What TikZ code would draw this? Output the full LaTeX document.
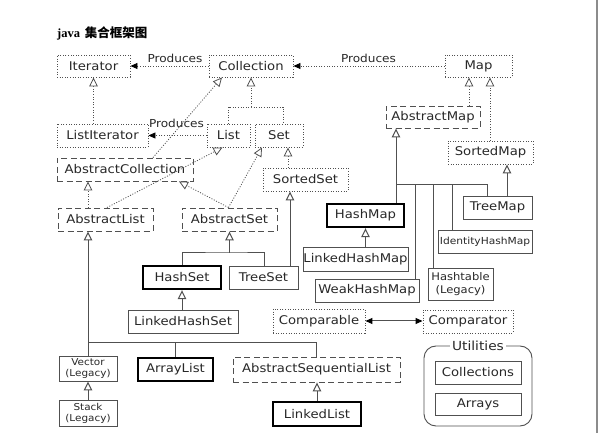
\documentclass[tikz,border=0pt]{standalone}
\usepackage{fontspec}
\setmainfont{DejaVu Sans}[FakeStretch=1.1]
\newfontfamily\cjk{Noto Sans CJK SC}
\newfontfamily\titleserif{Liberation Serif}
\usetikzlibrary{arrows.meta,calc}
\definecolor{ln}{HTML}{505050}
\definecolor{tx}{HTML}{282828}
\tikzset{
  box/.style={rectangle, inner sep=0pt, draw=ln, line width=0.9pt, text=tx, align=center, font=\fontsize{12}{14}\selectfont},
  dotbox/.style={box, dash pattern=on 1pt off 1.6pt},
  dashbox/.style={box, dash pattern=on 6pt off 3.5pt},
  solidbox/.style={box},
  thickbox/.style={box, draw=black, line width=2.4pt},
  iface/.style={draw=ln, line width=0.8pt, dash pattern=on 1pt off 1.6pt},
  impl/.style={draw=ln, line width=1pt},
  inh/.style={-{Triangle[length=9pt,width=8.5pt,fill=white]}},
  prod/.style={iface, -{Triangle[length=7pt,width=6pt,color=black,fill=black]}},
  lbl/.style={inner sep=0pt, text=tx, font=\fontsize{11}{13}\selectfont},
  small/.style={font=\fontsize{9.5}{11}\selectfont}
}
\begin{document}
\begin{tikzpicture}[x=1pt,y=-1pt]
\fill[white] (0,0) rectangle (600,443);
\useasboundingbox (0,0) rectangle (600,443);

% title
\node[anchor=base west, inner sep=0pt, text=black] (title) at (57,38)
  {\bfseries\fontsize{12.5}{14}\selectfont{\titleserif java} {\cjk 集合框架图}};

% interfaces and classes
\node[dotbox, minimum width=73, minimum height=22] (iter) at (93.5,66) {Iterator};
\node[dotbox, minimum width=84, minimum height=22] (coll) at (251,66) {Collection};
\node[dotbox, minimum width=67, minimum height=22] (map) at (478.5,66) {Map};
\node[dotbox, minimum width=91, minimum height=23] (listit) at (102.5,135.5) {ListIterator};
\node[dotbox, minimum width=43, minimum height=23] (list) at (228.5,135.5) {List};
\node[dotbox, minimum width=48, minimum height=23] (set) at (279,135.5) {Set};
\node[dashbox, minimum width=136, minimum height=23] (abscoll) at (125,169.5) {AbstractCollection};
\node[dashbox, minimum width=95, minimum height=23] (abslist) at (105.5,219.5) {AbstractList};
\node[dashbox, minimum width=95, minimum height=23] (absset) at (229.5,219.5) {AbstractSet};
\node[dotbox, minimum width=85, minimum height=23] (sortedset) at (305.5,179.5) {SortedSet};
\node[thickbox, minimum width=78, minimum height=23] (hashset) at (182,277.5) {HashSet};
\node[solidbox, minimum width=69, minimum height=23] (treeset) at (263.5,277.5) {TreeSet};
\node[solidbox, minimum width=110, minimum height=23] (lhs) at (183,321.5) {LinkedHashSet};
\node[solidbox, small, minimum width=58, minimum height=25] (vector) at (88,368.5) {Vector\\(Legacy)};
\node[solidbox, small, minimum width=58, minimum height=26] (stack) at (88,413) {Stack\\(Legacy)};
\node[thickbox, minimum width=75, minimum height=23] (arraylist) at (175.5,369.5) {ArrayList};
\node[dashbox, minimum width=167, minimum height=25] (asl) at (316.5,369.5) {AbstractSequentialList};
\node[thickbox, minimum width=88, minimum height=24] (linkedlist) at (317,414) {LinkedList};
\node[dotbox, minimum width=92, minimum height=24] (comparable) at (319,321) {Comparable};
\node[dotbox, minimum width=90, minimum height=23] (comparator) at (468,321.5) {Comparator};
\node[dashbox, minimum width=94, minimum height=22] (absmap) at (433,117) {AbstractMap};
\node[dotbox, minimum width=85, minimum height=23] (sortedmap) at (490.5,152.5) {SortedMap};
\node[thickbox, minimum width=77, minimum height=23] (hashmap) at (365.5,215.5) {HashMap};
\node[solidbox, minimum width=69, minimum height=23] (treemap) at (497.5,207.5) {TreeMap};
\node[solidbox, font=\fontsize{9.7}{11}\selectfont, minimum width=94, minimum height=23] (identity) at (485,241.5) {IdentityHashMap};
\node[solidbox, minimum width=105, minimum height=24] (lhm) at (355.5,259) {LinkedHashMap};
\node[solidbox, minimum width=104, minimum height=23] (weak) at (367,290.5) {WeakHashMap};
\node[solidbox, font=\fontsize{10.5}{12.5}\selectfont, minimum width=65, minimum height=32] (hashtable) at (460.5,284) {Hashtable\\(Legacy)};

% utilities group
\node[draw=ln, line width=0.9pt, rounded corners=12pt, minimum width=108, minimum height=80, inner sep=0pt] (utilbox) at (478,386) {};
\node[fill=white, inner sep=2pt, text=tx, font=\fontsize{12.5}{14}\selectfont] (util) at (478,346) {Utilities};
\node[solidbox, minimum width=86, minimum height=23] (collections) at (478,372.5) {Collections};
\node[solidbox, minimum width=86, minimum height=22] (arrays) at (478,404) {Arrays};

% "Produces" connectors
\draw[prod] (coll.west) -- (iter.east);
\draw[prod] (map.west) -- (coll.east);
\draw[prod] (list.west) -- (listit.east);
\node[lbl] (p1) at (175,58) {Produces};
\node[lbl] (p2) at (368.5,58) {Produces};
\node[lbl] (p3) at (176.5,123.5) {Produces};

% interface inheritance (dotted)
\draw[iface,inh] (iter.south |- listit.north) -- (iter.south);
\coordinate (cj) at (251,107);
\draw[iface] (list.north) |- (cj) -| ([xshift=4]set.north);
\draw[iface,inh] (cj) -- (coll.south);
\draw[iface,inh] ([xshift=28]abscoll.north) -- ([xshift=-29]coll.south);
\draw[iface,inh] ([xshift=-17.5]abslist.north) -- ([xshift=-17.5]abslist.north |- abscoll.south);
\draw[iface,inh] ([xshift=1.5]abslist.north) -- ([xshift=-6]list.south);
\draw[iface,inh] ([xshift=-1]absset.north) -- ([xshift=54]abscoll.south);
\draw[iface,inh] ([xshift=-1]absset.north) -- ([xshift=-17]set.south);
\draw[iface,inh] ([xshift=9]set.south |- sortedset.north) -- ([xshift=9]set.south);
\draw[iface,inh] ([xshift=-9.5]map.south |- absmap.north) -- ([xshift=-9.5]map.south);
\draw[iface,inh] ([xshift=11.5]map.south |- sortedmap.north) -- ([xshift=11.5]map.south);

% class inheritance (solid)
\coordinate (sj) at (229.5,253);
\draw[impl] (hashset.north) |- (sj) -| ([xshift=0.5]treeset.north);
\draw[impl,inh] (sj) -- (absset.south);
\draw[impl,inh] ([xshift=26.5]treeset.north) -- ([xshift=26.5]treeset.north |- sortedset.south);
\draw[impl,inh] (lhs.north -| hashset.south) -- (hashset.south);
\coordinate (lj) at (88,343);
\draw[impl,inh] (vector.north) -- (vector.north |- abslist.south);
\draw[impl] (lj) -| (arraylist.north);
\draw[impl] (lj) -| (asl.north);
\draw[impl,inh] (stack.north) -- (vector.south);
\draw[impl,inh] (linkedlist.north) -- (linkedlist.north |- asl.south);

\coordinate (mj) at (396,185);
\draw[impl,inh] ([xshift=30.5]hashmap.north) -- ([xshift=30.5]hashmap.north |- absmap.south);
\draw[impl] (mj) -| ([xshift=-10.5]treemap.north);
\coordinate (m1) at (415,185);
\coordinate (m2) at (433,185);
\coordinate (m3) at (452,185);
\draw[impl] (m1) -- (weak.north -| m1);
\draw[impl] (m2) -- (hashtable.north -| m2);
\draw[impl] (m3) -- (identity.north -| m3);
\draw[impl,inh] ([xshift=9.5]treemap.north) -- ([xshift=9.5]treemap.north |- sortedmap.south);
\draw[impl,inh] (hashmap.south |- lhm.north) -- (hashmap.south);

% Comparable <-> Comparator
\draw[impl,{Triangle[length=7pt,width=6pt,color=black,fill=black]}-{Triangle[length=7pt,width=6pt,color=black,fill=black]}] (comparable.east) -- (comparable.east -| comparator.west);

% right edge line
\draw[black!45, line width=1.2pt] (597,0) -- (597,433);
\end{tikzpicture}
\end{document}
